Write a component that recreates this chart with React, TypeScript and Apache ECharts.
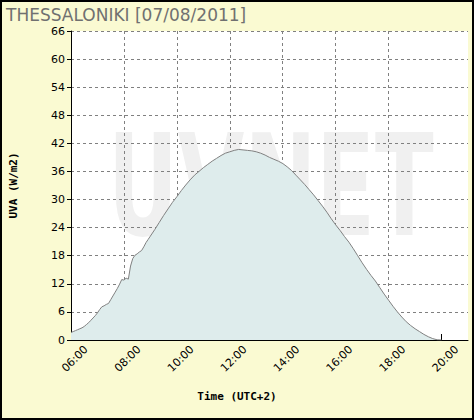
import React, { useEffect, useRef } from "react";
import * as echarts from "echarts";

const TITLE = "THESSALONIKI [07/08/2011]";
const X_NAME = "Time (UTC+2)";
const Y_NAME = "UVA (W/m2)";
const WATERMARK = "UVNET";

const times = [
  "06:00", "06:05", "06:10", "06:15", "06:20", "06:25", "06:30", "06:35", "06:40", "06:45",
  "06:50", "06:55", "07:00", "07:05", "07:10", "07:15", "07:20", "07:25", "07:30", "07:35",
  "07:40", "07:45", "07:50", "07:55", "08:00", "08:05", "08:10", "08:15", "08:20", "08:25",
  "08:30", "08:35", "08:40", "08:45", "08:50", "08:55", "09:00", "09:10", "09:20", "09:30",
  "09:40", "09:50", "10:00", "10:10", "10:20", "10:30", "10:40", "10:50", "11:00", "11:10",
  "11:20", "11:30", "11:40", "11:50", "12:00", "12:10", "12:20", "12:30", "12:40", "12:50",
  "13:00", "13:10", "13:20", "13:30", "13:40", "13:50", "14:00", "14:10", "14:20", "14:30",
  "14:40", "14:50", "15:00", "15:10", "15:20", "15:30", "15:40", "15:50", "16:00", "16:10",
  "16:20", "16:30", "16:40", "16:50", "17:00", "17:10", "17:20", "17:30", "17:40", "17:50",
  "18:00", "18:10", "18:20", "18:30", "18:40", "18:50", "19:00", "19:10", "19:20", "19:30",
  "19:40", "19:50", "20:00",
];

const uva = [
  1.6, 1.8, 2.0, 2.2, 2.4, 2.6, 2.9, 3.3, 3.7, 4.2,
  4.7, 5.2, 5.8, 6.5, 7.1, 7.3, 7.6, 7.8, 8.6, 9.4,
  10.2, 11.0, 11.9, 12.9, 12.8, 13.2, 13.0, 15.8, 17.4, 18.1,
  18.4, 18.8, 19.1, 19.9, 20.8, 21.5, 22.2, 23.6, 25.1, 26.6,
  28.0, 29.4, 30.6, 31.9, 33.1, 34.2, 35.2, 36.0, 36.8, 37.5,
  38.2, 38.8, 39.4, 39.9, 40.2, 40.5, 40.7, 40.6, 40.5, 40.4,
  40.2, 39.9, 39.5, 39.0, 38.6, 38.2, 37.7, 37.0, 36.2, 35.2,
  34.2, 33.2, 32.1, 31.0, 29.8, 28.6, 27.3, 25.9, 24.6, 23.4,
  22.1, 20.9, 19.5, 18.0, 16.5, 15.1, 13.8, 12.6, 11.2, 9.8,
  8.5, 7.2, 6.0, 4.9, 3.9, 3.1, 2.4, 1.8, 1.2, 0.7,
  0.3, 0.05, 0,
];

const xTickHours = [6, 8, 10, 12, 14, 16, 18, 20];

function toHours(t: string): number {
  const [h, m] = t.split(":").map(Number);
  return h + m / 60;
}

function fmtHour(v: number): string {
  const h = Math.round(v);
  return (h < 10 ? "0" : "") + h + ":00";
}

export default function App() {
  const ref = useRef<HTMLDivElement>(null);
  useEffect(() => {
    document.body.style.margin = "0";
    const chart = echarts.init(ref.current!, null, { renderer: "svg" });
    chart.setOption({
      animation: false,
      backgroundColor: "#FAFAD2",
      textStyle: { fontFamily: "DejaVu Sans" },
      grid: {
        left: 70,
        top: 31,
        right: 6,
        bottom: 80,
        show: true,
        backgroundColor: "#FFFFFF",
        borderWidth: 0,
        z: -10,
      },
      graphic: [
        {
          type: "text",
          x: 108,
          y: 116,
          scaleX: 0.61,
          z: -5,
          silent: true,
          style: {
            text: WATERMARK,
            font: 'bold 141px "DejaVu Sans"',
            fill: "#F0F0F0",
            verticalAlign: "top",
          },
        },
        {
          type: "text",
          x: 6,
          y: 6,
          style: {
            text: TITLE,
            font: '17px "DejaVu Sans"',
            fill: "#707070",
            verticalAlign: "top",
          },
        },
        {
          type: "text",
          x: 237,
          y: 396,
          style: {
            text: X_NAME,
            font: 'bold 11px "DejaVu Sans Mono"',
            fill: "#000000",
            align: "center",
            verticalAlign: "middle",
          },
        },
        {
          type: "rect",
          z: 100,
          silent: true,
          shape: { x: 1, y: 1, width: 472, height: 418 },
          style: { fill: "none", stroke: "#000000", lineWidth: 2 },
        },
      ],
      xAxis: {
        type: "value",
        min: 6,
        max: 21,
        interval: 2,
        axisLine: { show: true, onZero: false, lineStyle: { color: "#000000", width: 1 } },
        axisTick: {
          show: true,
          inside: true,
          length: 6,
          customValues: xTickHours,
          lineStyle: { color: "#000000" },
        },
        axisLabel: {
          customValues: xTickHours,
          rotate: 45,
          align: "center",
          verticalAlign: "top",
          margin: 15,
          fontSize: 11,
          color: "#000000",
          fontFamily: "DejaVu Sans",
          formatter: (v: number) => fmtHour(v),
        },
        splitLine: {
          show: true,
          showMinLine: false,
          showMaxLine: false,
          lineStyle: { color: "#808080", type: [3, 3], width: 1 },
        },
      },
      yAxis: {
        type: "value",
        min: 0,
        max: 66,
        interval: 6,
        name: Y_NAME,
        nameLocation: "middle",
        nameGap: 52,
        nameTextStyle: {
          fontFamily: "DejaVu Sans Mono",
          fontWeight: "bold",
          fontSize: 11,
          color: "#000000",
        },
        axisLine: { show: true, lineStyle: { color: "#000000", width: 1 } },
        axisTick: { show: true, length: 4, lineStyle: { color: "#000000" } },
        axisLabel: { margin: 6, fontSize: 11, color: "#000000", fontFamily: "DejaVu Sans" },
        splitLine: {
          show: true,
          showMinLine: false,
          lineStyle: { color: "#808080", type: [3, 3], width: 1 },
        },
      },
      series: [
        {
          type: "line",
          data: times.map((t, i) => [toHours(t), uva[i]]),
          showSymbol: false,
          symbol: "none",
          lineStyle: { color: "#808080", width: 1 },
          areaStyle: { color: "#DEECEC", opacity: 1 },
          clip: true,
        },
      ],
    });
    return () => chart.dispose();
  }, []);
  return <div ref={ref} style={{ width: 474, height: 420 }} />;
}
